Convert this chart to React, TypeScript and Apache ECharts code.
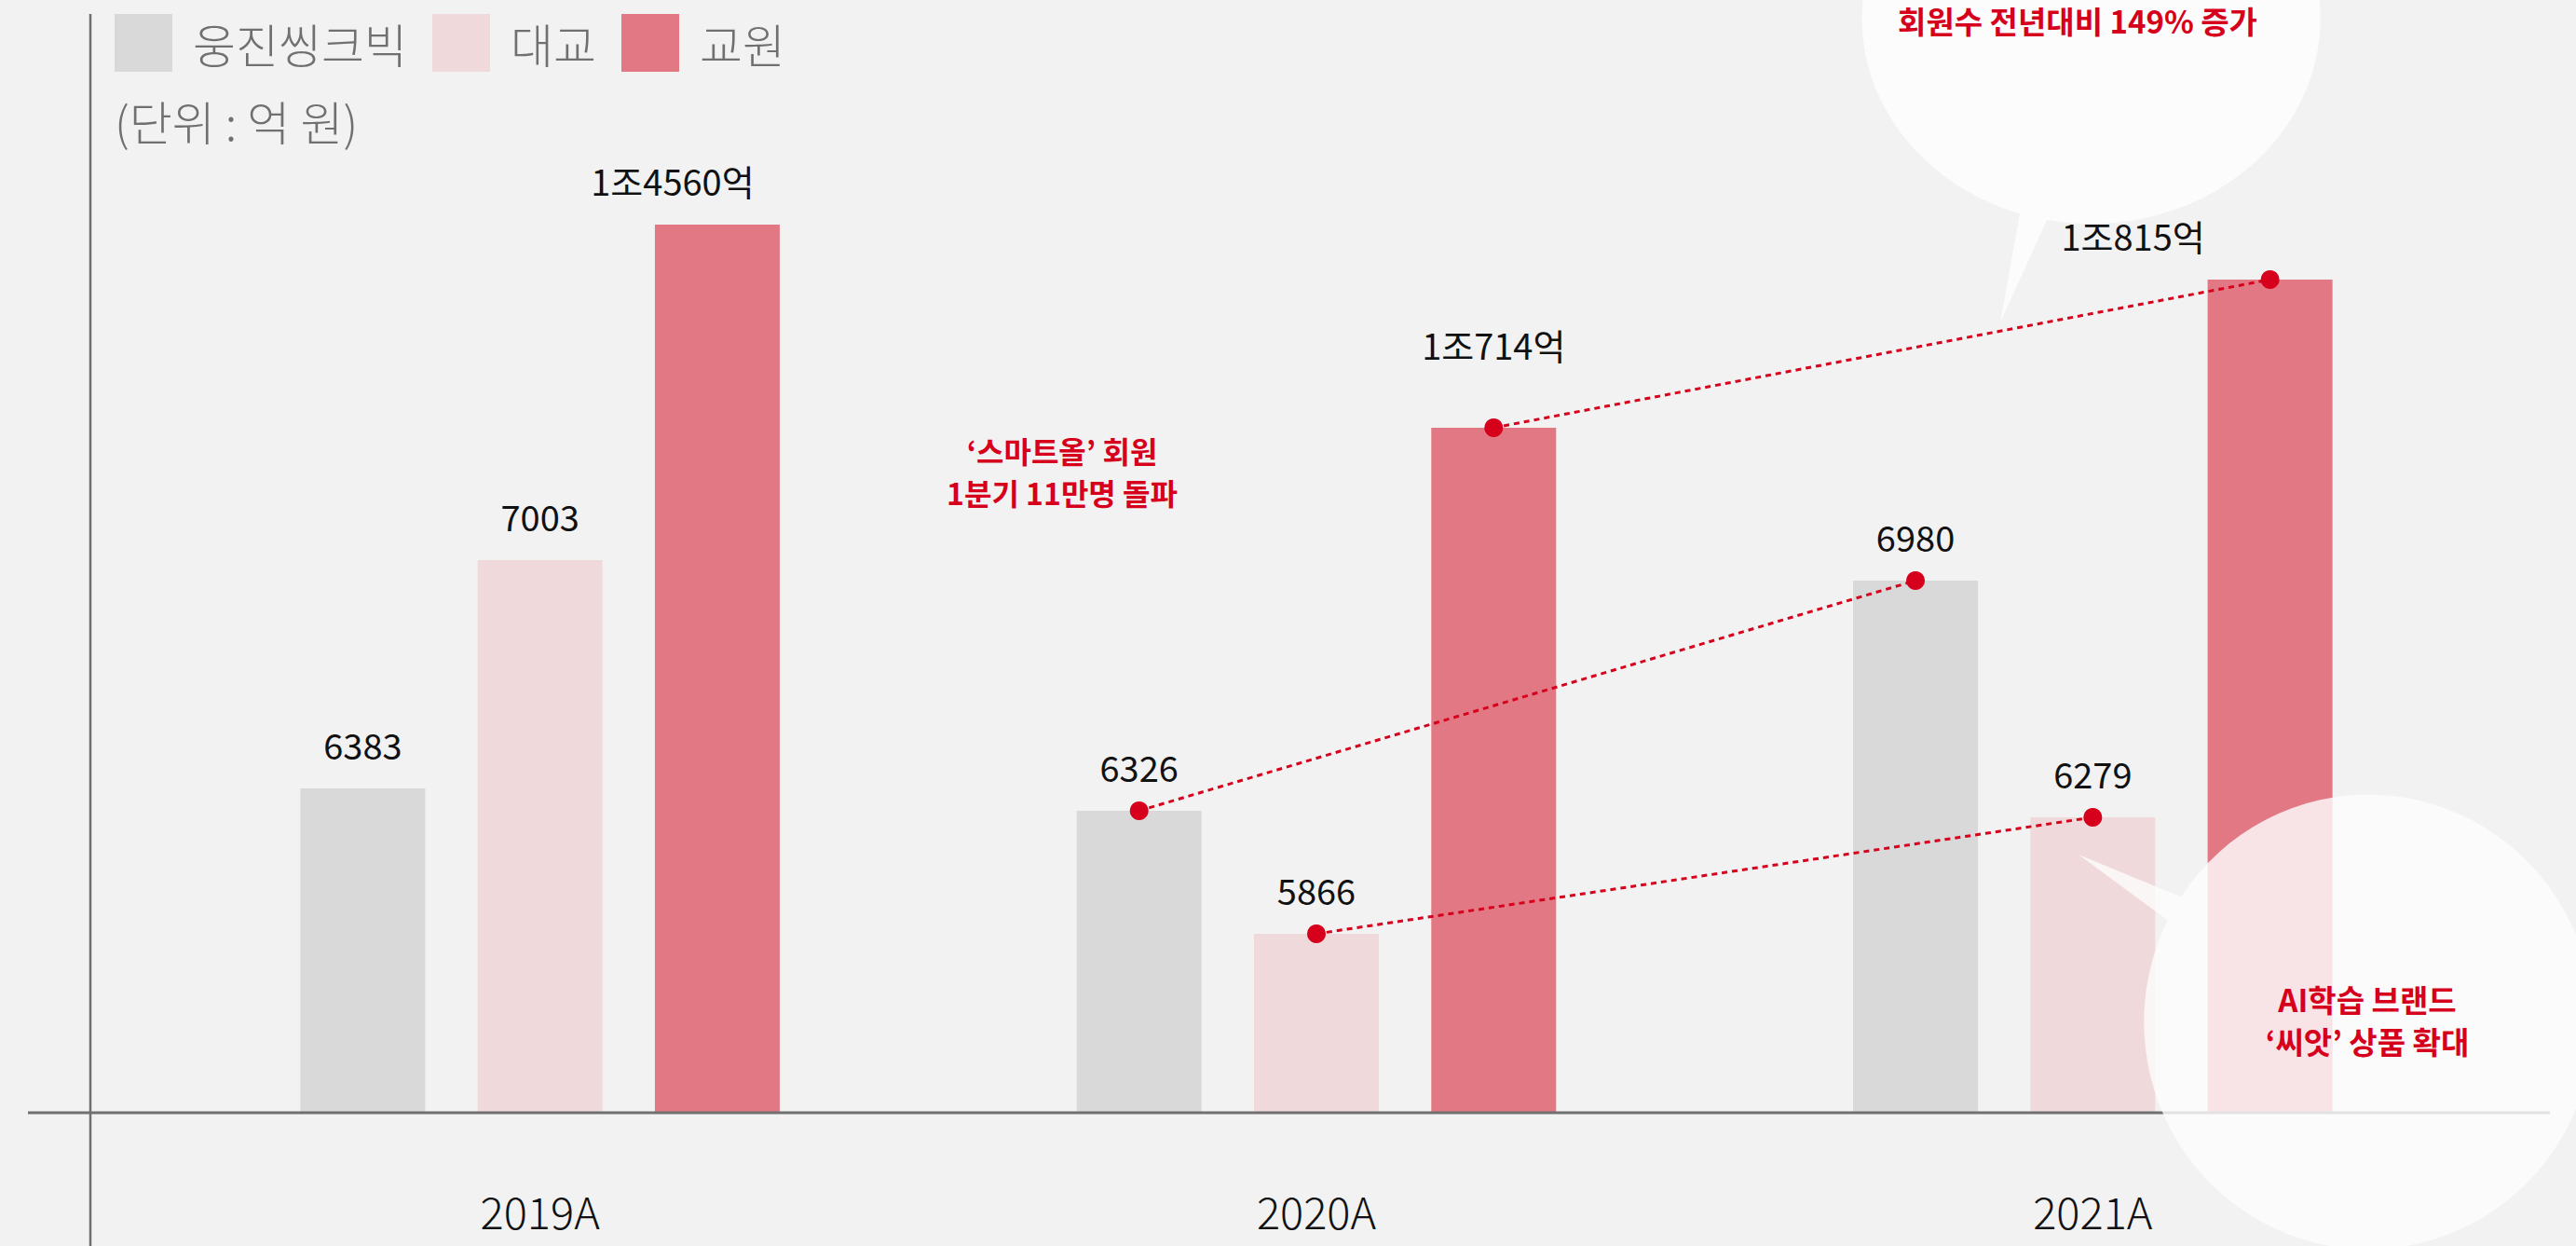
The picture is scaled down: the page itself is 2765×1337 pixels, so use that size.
import React, { useEffect, useRef } from 'react';
import * as echarts from 'echarts';

const W = 2765;
const H = 1337;

// ---- data ----
const categories = ['2019A', '2020A', '2021A'];
const seriesNames = ['웅진씽크빅', '대교', '교원'];
// sales (억 원) shown in the labels
const woongjinSales = [6383, 6326, 6980];
const daekyoSales = [7003, 5866, 6279];
const kyowonSales = [14560, 10714, 10815];
// the bars in the picture are not drawn to scale: heights (0–1000 display scale)
const woongjinDrawn = [348, 324, 571];
const daekyoDrawn = [593, 192, 317];
const kyowonDrawn = [953, 735, 894];
const trendFromIndex = 1;
const trendToIndex = 2;
const unitText = '(단위 : 억 원)';
const noteSmartAll = '‘스마트올’ 회원\n1분기 11만명 돌파';
const noteMembers = '회원수 전년대비 149% 증가';
const noteSeed = 'AI학습 브랜드\n‘씨앗’ 상품 확대';

// ---- styles ----
const COLORS = ['#d9d9d9', '#efd9db', '#e27883'];
const RED = '#d6001c';
const BG = '#f2f2f2';
const GRAY = '#707070';
const FONT = '"Noto Sans CJK KR", "Noto Sans", sans-serif';

const GRID_LEFT = 163;
const GRID_RIGHT = 102;
const GRID_TOP = 194;
const GRID_BOTTOM = 143;
const Y_MAX = 1000;
const BAR_W = 134;
const BAR_GAP = 0.42;

function formatEok(v: number): string {
  if (v >= 10000) return `${Math.floor(v / 10000)}조${v % 10000}억`;
  return String(v);
}

function ellipsePt(cx: number, cy: number, rx: number, ry: number, deg: number) {
  const a = (deg * Math.PI) / 180;
  return [cx + rx * Math.cos(a), cy + ry * Math.sin(a)];
}

function bubblePath(cx: number, cy: number, rx: number, ry: number, tip: number[], a1: number, a2: number) {
  const p1 = ellipsePt(cx, cy, rx, ry, a1);
  const p2 = ellipsePt(cx, cy, rx, ry, a2);
  return `M${tip[0]} ${tip[1]} L${p1[0].toFixed(1)} ${p1[1].toFixed(1)} A${rx} ${ry} 0 1 1 ${p2[0].toFixed(1)} ${p2[1].toFixed(1)} Z`;
}

echarts.graphic.registerShape(
  'bubbleTop',
  echarts.graphic.extendPath(bubblePath(2244, 20, 246, 220, [2147, 346], 108, 101), {})
);
echarts.graphic.registerShape(
  'bubbleBottom',
  echarts.graphic.extendPath(bubblePath(2542, 1097, 241, 244, [2231, 917], 213.5, 206.7), {})
);

function noteText(text: string, x: number, y: number, size: number, lineHeight = 45) {
  return {
    type: 'text',
    x,
    y,
    style: {
      text,
      fill: RED,
      fontSize: size,
      fontWeight: 'bold',
      fontFamily: FONT,
      lineHeight,
      textAlign: 'center',
      align: 'center',
      textVerticalAlign: 'middle',
      verticalAlign: 'middle',
    },
    z: 30,
  };
}

function buildOption() {
  const catWidth = (W - GRID_LEFT - GRID_RIGHT) / categories.length;
  const off = (BAR_W * (1 + BAR_GAP)) / catWidth;

  const labelBase = {
    show: true,
    position: 'top',
    distance: 29,
    fontSize: 38,
    color: '#111111',
    fontFamily: FONT,
  };

  const barSeries = (name: string, drawn: number[], sales: number[], color: string, itemLabels: any[] = []) => ({
    name,
    type: 'bar',
    barWidth: BAR_W,
    barGap: `${BAR_GAP * 100}%`,
    itemStyle: { color },
    data: drawn.map((v, i) => (itemLabels[i] ? { value: v, label: itemLabels[i] } : v)),
    label: {
      ...labelBase,
      formatter: (p: any) => formatEok(sales[p.dataIndex]),
    },
    emphasis: { disabled: true },
    z: 2,
  });

  const trend = (drawn: number[], shift: number) => ({
    type: 'line',
    xAxisIndex: 1,
    yAxisIndex: 0,
    data: [
      [trendFromIndex + shift, drawn[trendFromIndex]],
      [trendToIndex + shift, drawn[trendToIndex]],
    ],
    symbol: 'circle',
    symbolSize: 20,
    itemStyle: { color: RED },
    lineStyle: { color: RED, width: 3, type: [6, 5] },
    emphasis: { disabled: true },
    z: 5,
  });

  return {
    animation: false,
    backgroundColor: BG,
    textStyle: { fontFamily: FONT },
    legend: {
      data: seriesNames,
      left: 123,
      top: 15,
      padding: 0,
      icon: 'rect',
      itemWidth: 62,
      itemHeight: 62,
      itemGap: 27,
      itemStyle: { borderWidth: 0 },
      textStyle: { fontSize: 50, color: GRAY, fontFamily: FONT, fontWeight: 300, padding: [0, 0, 0, 17] },
      selectedMode: false,
    },
    grid: {
      left: GRID_LEFT,
      right: GRID_RIGHT,
      top: GRID_TOP,
      bottom: GRID_BOTTOM,
      containLabel: false,
      outerBoundsMode: 'none',
    },
    xAxis: [
      {
        type: 'category',
        data: categories,
        axisLine: { show: false },
        axisTick: { show: false },
        splitLine: { show: false },
        axisLabel: {
          margin: 84,
          fontSize: 47,
          lineHeight: 40,
          fontWeight: 300,
          color: '#111111',
          fontFamily: FONT,
        },
      },
      { type: 'value', min: -0.5, max: 2.5, show: false, splitLine: { show: false } },
    ],
    yAxis: { type: 'value', min: 0, max: Y_MAX, show: false, splitLine: { show: false } },
    series: [
      barSeries(seriesNames[0], woongjinDrawn, woongjinSales, COLORS[0]),
      barSeries(seriesNames[1], daekyoDrawn, daekyoSales, COLORS[1]),
      barSeries(seriesNames[2], kyowonDrawn, kyowonSales, COLORS[2], [
        { offset: [-48, 0] },
        { distance: 71 },
        { offset: [-147, 0] },
      ]),
      trend(woongjinDrawn, -off),
      trend(daekyoDrawn, 0),
      trend(kyowonDrawn, off),
    ],
    graphic: [
      {
        type: 'line',
        shape: { x1: 97, y1: 15, x2: 97, y2: H },
        style: { stroke: '#6f6f6f', lineWidth: 2.5 },
        z: 1,
        silent: true,
      },
      {
        type: 'line',
        shape: { x1: 30, y1: H - GRID_BOTTOM, x2: 2737, y2: H - GRID_BOTTOM },
        style: { stroke: GRAY, lineWidth: 3 },
        z: 3,
        silent: true,
      },
      {
        type: 'text',
        x: 123,
        y: 129,
        style: {
          text: unitText,
          fill: GRAY,
          fontSize: 50,
          fontWeight: 300,
          fontFamily: FONT,
          textAlign: 'left',
          align: 'left',
          textVerticalAlign: 'middle',
          verticalAlign: 'middle',
        },
        z: 10,
      },
      { type: 'bubbleTop', x: 0, y: 0, style: { fill: '#fcfcfc' }, z: 20, silent: true },
      { type: 'bubbleBottom', x: 0, y: 0, style: { fill: 'rgba(253,253,253,0.81)' }, z: 20, silent: true },
      noteText(noteSmartAll, 1140, 505.5, 32),
      noteText(noteMembers, 2230, 22, 33, 34),
      noteText(noteSeed, 2541, 1094.5, 33),
    ],
  };
}

export default function App() {
  const ref = useRef<HTMLDivElement>(null);
  useEffect(() => {
    if (!ref.current) return;
    const chart = echarts.init(ref.current, undefined, { renderer: 'svg' });
    chart.setOption(buildOption() as any);
    return () => chart.dispose();
  }, []);
  return <div ref={ref} style={{ position: 'fixed', left: 0, top: 0, width: W, height: H }} />;
}
